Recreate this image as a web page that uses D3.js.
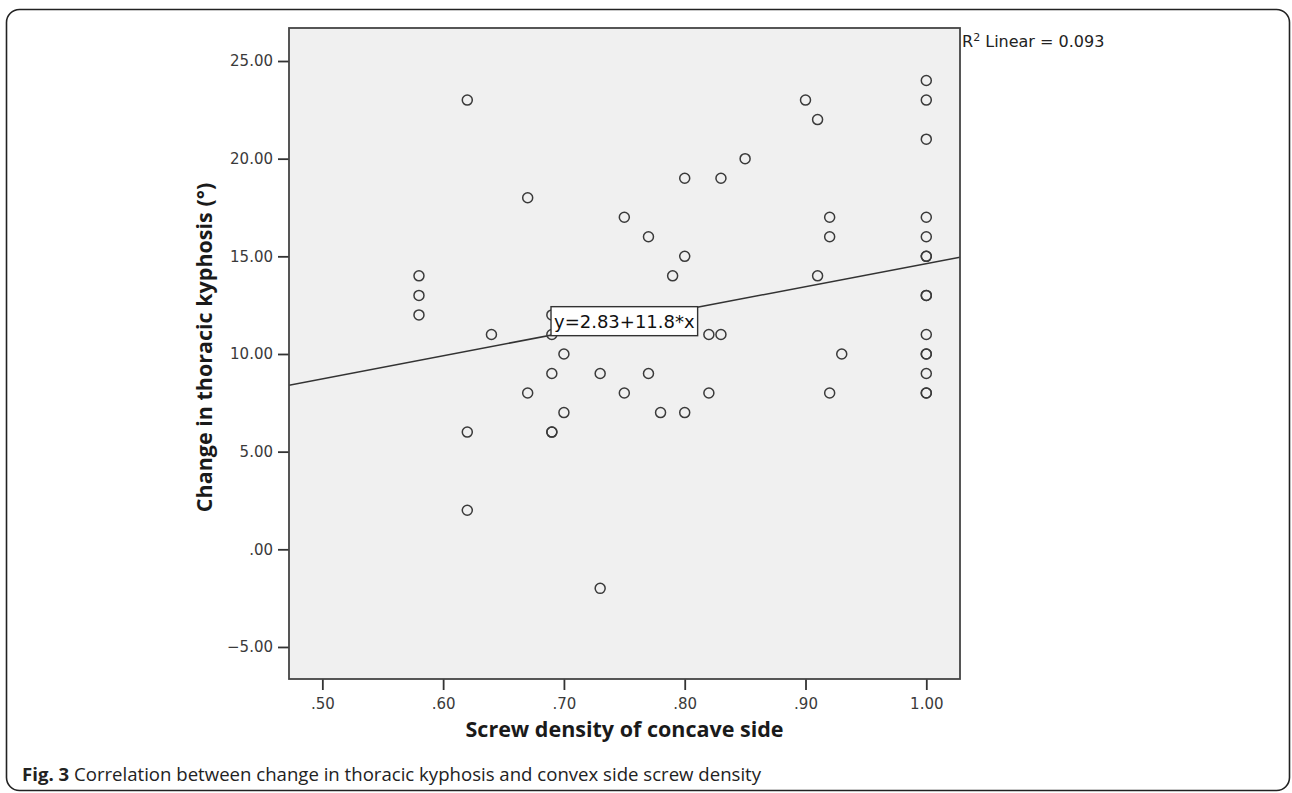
<!DOCTYPE html>
<html>
<head>
<meta charset="utf-8">
<script src="https://cdn.jsdelivr.net/npm/d3@7"></script>
<style>
  html, body { margin: 0; padding: 0; background: #fff; }
  svg { display: block; }
</style>
</head>
<body>
<svg id="chart" width="1292" height="793"></svg>
<script>
// ---- Data ----
const screwDensity = [
  0.58, 0.58, 0.58,
  0.62, 0.62, 0.62,
  0.64,
  0.67, 0.67,
  0.69, 0.69, 0.69, 0.69, 0.69,
  0.70, 0.70,
  0.73, 0.73,
  0.75, 0.75,
  0.77, 0.77,
  0.78,
  0.79,
  0.80, 0.80, 0.80,
  0.82, 0.82,
  0.83, 0.83,
  0.85,
  0.90,
  0.91, 0.91,
  0.92, 0.92, 0.92,
  0.93,
  1.00, 1.00, 1.00, 1.00, 1.00, 1.00, 1.00, 1.00, 1.00, 1.00, 1.00, 1.00, 1.00, 1.00, 1.00
];
const kyphosisChange = [
  14, 13, 12,
  23, 6, 2,
  11,
  18, 8,
  12, 11, 9, 6, 6,
  10, 7,
  9, -2,
  17, 8,
  16, 9,
  7,
  14,
  19, 15, 7,
  11, 8,
  19, 11,
  20,
  23,
  22, 14,
  17, 16, 8,
  10,
  24, 23, 21, 17, 16, 15, 15, 13, 13, 11, 10, 10, 9, 8, 8
];
const xTicks = [0.50, 0.60, 0.70, 0.80, 0.90, 1.00];
const yTicks = [-5, 0, 5, 10, 15, 20, 25];
const fitIntercept = 2.83;
const fitSlope = 11.8;
const equationLabel = "y=2.83+11.8*x";
const r2Label = { sup: "2", rest: " Linear = 0.093" };
const xTitle = "Screw density of concave side";
const yTitle = "Change in thoracic kyphosis (°)";
const captionBold = "Fig. 3";
const captionText = " Correlation between change in thoracic kyphosis and convex side screw density";

// ---- Layout ----
const plot = { left: 289, top: 28, right: 960, bottom: 679 };
const svg = d3.select("#chart");

const x = d3.scaleLinear().domain([0.4724, 1.0279]).range([plot.left, plot.right]);
const y = d3.scaleLinear().domain([-6.64, 26.69]).range([plot.bottom, plot.top]);

const spssFmt = v => {
  let s = d3.format(".2f")(Math.abs(v));
  if (s.startsWith("0.")) s = s.slice(1);
  return (v < 0 ? "\u2212" : "") + s;
};

// Outer rounded border
svg.append("rect")
  .attr("x", 6.5).attr("y", 9.5)
  .attr("width", 1283).attr("height", 781)
  .attr("rx", 13).attr("ry", 13)
  .attr("fill", "none").attr("stroke", "#222").attr("stroke-width", 1.6);

// Plot background
svg.append("rect")
  .attr("x", plot.left).attr("y", plot.top)
  .attr("width", plot.right - plot.left).attr("height", plot.bottom - plot.top)
  .attr("fill", "#f0f0f0");

// Axes
const yAxis = svg.append("g")
  .attr("transform", `translate(${plot.left},0)`)
  .call(d3.axisLeft(y).tickValues(yTicks).tickFormat(spssFmt).tickSize(11).tickPadding(5));
const xAxis = svg.append("g")
  .attr("transform", `translate(0,${plot.bottom})`)
  .call(d3.axisBottom(x).tickValues(xTicks).tickFormat(spssFmt).tickSize(11).tickPadding(8));
[yAxis, xAxis].forEach(g => {
  g.select(".domain").remove();
  g.selectAll(".tick line").attr("stroke", "#333").attr("stroke-width", 1.8);
  g.selectAll(".tick text")
    .attr("fill", "#3a3a3a")
    .style("font-family", "'DejaVu Sans', sans-serif")
    .style("font-size", "15px");
});

// Clip for fit line
svg.append("clipPath").attr("id", "plotClip")
  .append("rect")
  .attr("x", plot.left).attr("y", plot.top)
  .attr("width", plot.right - plot.left).attr("height", plot.bottom - plot.top);

// Fit line
const xd = x.domain();
const fitPts = xd.map(v => [v, fitIntercept + fitSlope * v]);
svg.append("path")
  .attr("clip-path", "url(#plotClip)")
  .attr("d", d3.line().x(d => x(d[0])).y(d => y(d[1]))(fitPts))
  .attr("fill", "none").attr("stroke", "#333").attr("stroke-width", 1.5);

// Points
svg.append("g").selectAll("circle")
  .data(screwDensity.map((d, i) => [d, kyphosisChange[i]]))
  .join("circle")
  .attr("cx", d => x(d[0]))
  .attr("cy", d => y(d[1]))
  .attr("r", 5)
  .attr("fill", "none")
  .attr("stroke", "#3a3a3a")
  .attr("stroke-width", 1.5);

// Equation label box centred on the fit line
const eqX = 0.75;
const eqCx = x(eqX), eqCy = y(fitIntercept + fitSlope * eqX);
const eqG = svg.append("g");
const eqRect = eqG.append("rect");
const eqText = eqG.append("text")
  .attr("x", eqCx).attr("y", eqCy + 7)
  .attr("text-anchor", "middle")
  .attr("fill", "#111")
  .style("font-family", "'DejaVu Sans', sans-serif")
  .style("font-size", "18px")
  .text(equationLabel);
const eqW = eqText.node().getComputedTextLength() + 6;
const eqH = 29;
eqRect.attr("x", eqCx - eqW / 2).attr("y", eqCy - eqH / 2)
  .attr("width", eqW).attr("height", eqH)
  .attr("fill", "#fff").attr("stroke", "#333").attr("stroke-width", 1.4);

// Plot frame
svg.append("rect")
  .attr("x", plot.left).attr("y", plot.top)
  .attr("width", plot.right - plot.left).attr("height", plot.bottom - plot.top)
  .attr("fill", "none").attr("stroke", "#444").attr("stroke-width", 1.8);

// R² label
const r2 = svg.append("text")
  .attr("x", plot.right + 2).attr("y", 47)
  .attr("fill", "#222")
  .style("font-family", "'DejaVu Sans', sans-serif")
  .style("font-size", "16px");
r2.append("tspan").text("R");
r2.append("tspan").attr("dy", -6).style("font-size", "11px").text(r2Label.sup);
r2.append("tspan").attr("dy", 6).text(r2Label.rest);

// Axis titles
svg.append("text")
  .attr("x", (plot.left + plot.right) / 2).attr("y", 737)
  .attr("text-anchor", "middle")
  .attr("fill", "#1a1a1a")
  .style("font-family", "'Open Sans', sans-serif")
  .style("font-weight", "bold")
  .style("font-size", "21.5px")
  .text(xTitle);
svg.append("text")
  .attr("transform", `translate(212,${(plot.top + plot.bottom) / 2 - 6}) rotate(-90)`)
  .attr("text-anchor", "middle")
  .attr("fill", "#1a1a1a")
  .style("font-family", "'Open Sans', sans-serif")
  .style("font-weight", "bold")
  .style("font-size", "21.5px")
  .text(yTitle);

// Caption
const cap = svg.append("text")
  .attr("x", 22).attr("y", 781)
  .attr("fill", "#222")
  .style("font-family", "'Open Sans', sans-serif")
  .style("font-size", "18.6px");
cap.append("tspan").style("font-weight", "bold").text(captionBold);
cap.append("tspan").text(captionText);
</script>
</body>
</html>
